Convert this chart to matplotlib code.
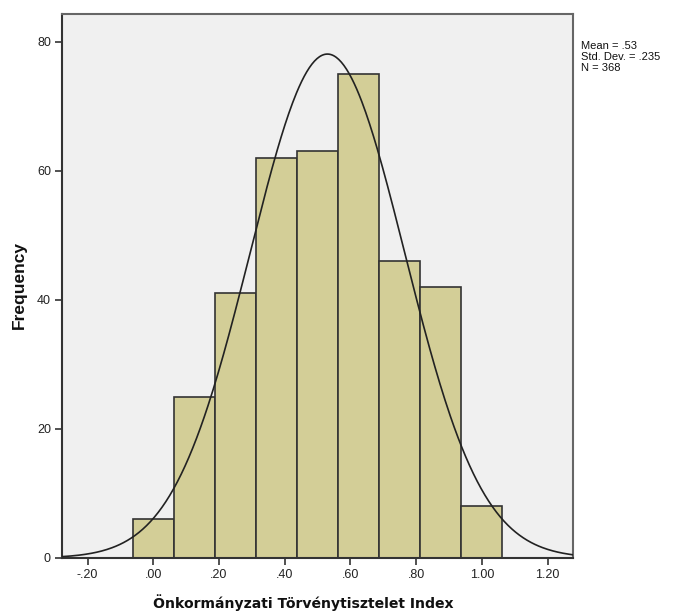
import numpy as np
import matplotlib
matplotlib.use("Agg")
import matplotlib.pyplot as plt

bin_centers = [0.0, 0.125, 0.25, 0.375, 0.5, 0.625, 0.75, 0.875, 1.0]
counts = [6, 25, 41, 62, 63, 75, 46, 42, 8]
bin_width = 0.125
mean = 0.53
std = 0.235
n = 368
xticks = [-0.2, 0.0, 0.2, 0.4, 0.6, 0.8, 1.0, 1.2]
xticklabels = ["-.20", ".00", ".20", ".40", ".60", ".80", "1.00", "1.20"]
yticks = [0, 20, 40, 60, 80]

plt.rcParams['font.family'] = ['Liberation Sans', 'DejaVu Sans']

fig = plt.figure(figsize=(6.78, 6.13), dpi=100)
ax = fig.add_axes([62/678, 55/613, (573.3-62)/678, (558-14)/613])
ax.set_facecolor('#F0F0F0')

ax.bar(bin_centers, counts, width=bin_width, color='#D3CE97', edgecolor='#333333', linewidth=1.2, zorder=2)

xlo, xhi = -0.278, 1.2785
xs = np.linspace(xlo, xhi, 400)
ys = n * bin_width * np.exp(-0.5 * ((xs - mean) / std) ** 2) / (std * np.sqrt(2 * np.pi))
ax.plot(xs, ys, color='#222222', linewidth=1.2, zorder=3)

ax.set_xlim(xlo, xhi)
ax.set_ylim(0, 84.3)
ax.set_xticks(xticks)
ax.set_xticklabels(xticklabels)
ax.set_yticks(yticks)
ax.tick_params(axis='both', direction='out', length=5, width=1.2, color='#333333', labelsize=9, labelcolor='#222222', pad=3)

for s in ax.spines.values():
    s.set_color('#666666')
    s.set_linewidth(1.5)
for s in ['left', 'bottom']:
    ax.spines[s].set_color('#333333')

fig.text(303/678, 1 - 603/613, 'Önkormányzati Törvénytisztelet Index', fontsize=10.1,
         fontweight='bold', family=['DejaVu Sans'], ha='center', va='center', color='#111111')
fig.text(19/678, 1 - 285/613, 'Frequency', fontsize=12.5, fontweight='bold', rotation=90,
         ha='center', va='center', color='#111111')

fig.text(581/678, 1 - 41/613, 'Mean = .53\nStd. Dev. = .235\nN = 368', fontsize=8, va='top', ha='left',
         linespacing=1.1, color='#111111')

fig.savefig('out.png', dpi=100)
